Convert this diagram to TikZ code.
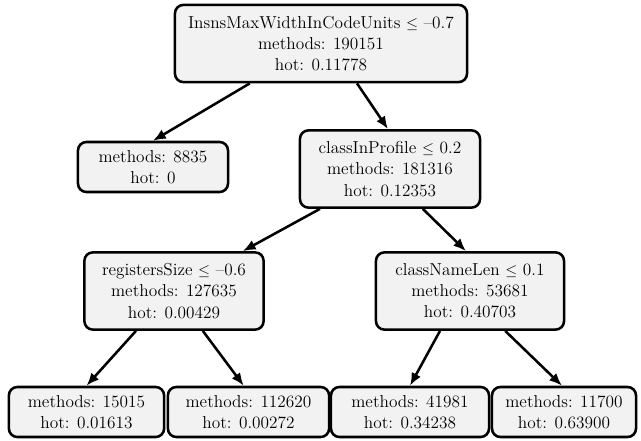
\documentclass[tikz,border=0pt]{standalone}
\usepackage{tikz}
\usetikzlibrary{arrows.meta, positioning}
\definecolor{nodegray}{RGB}{242,242,242}

\newcommand{\smallleq}{{\fontsize{10.5}{12}\selectfont$\leq$}}

\tikzset{
  treenode/.style={draw=black, fill=nodegray, line width=1.8pt, rounded corners=6pt,
    align=center, inner xsep=4pt, font=\fontsize{12.3}{15}\selectfont},
  splitnode/.style={treenode, minimum height=1.93cm},
  leafnode/.style={treenode, minimum height=1.25cm},
  edge/.style={-{Latex[length=3.2mm,width=2.6mm]}, line width=1.8pt}
}

\begin{document}
\begin{tikzpicture}[x=0.025cm, y=-0.025cm]
  \useasboundingbox (0,0) rectangle (641,441);

  % Root split
  \node[splitnode, minimum width=7.3cm] (root) at (321,43.5)
       {InsnsMaxWidthInCodeUnits \smallleq{} --0.7\\methods: 190151\\hot: 0.11778};

  % Level 1
  \node[leafnode, minimum width=3.75cm] (leafcold) at (153,167)
       {methods: 8835\\hot: 0};
  \node[splitnode, minimum width=4.5cm] (profile) at (390,169)
       {classInProfile \smallleq{} 0.2\\methods: 181316\\hot: 0.12353};

  % Level 2
  \node[splitnode, minimum width=4.48cm] (regs) at (174,291)
       {registersSize \smallleq{} --0.6\\methods: 127635\\hot: 0.00429};
  \node[splitnode, minimum width=4.7cm] (namelen) at (470,291)
       {classNameLen \smallleq{} 0.1\\methods: 53681\\hot: 0.40703};

  % Level 3 -- leaves
  \node[leafnode, minimum width=3.88cm] (leafa) at (86.5,412)
       {methods: 15015\\hot: 0.01613};
  \node[leafnode, minimum width=4.03cm] (leafb) at (248.5,412)
       {methods: 112620\\hot: 0.00272};
  \node[leafnode, minimum width=3.95cm] (leafc) at (410,412)
       {methods: 41981\\hot: 0.34238};
  \node[leafnode, minimum width=3.6cm] (leafd) at (564,412)
       {methods: 11700\\hot: 0.63900};

  % Edges
  \draw[edge] ([xshift=-1.78cm]root.south) -- (leafcold.north);
  \draw[edge] ([xshift=0.9cm]root.south) -- ([xshift=-0.05cm]profile.north);
  \draw[edge] ([xshift=-1.75cm]profile.south) -- ([xshift=1.72cm]regs.north);
  \draw[edge] ([xshift=0.82cm]profile.south) -- ([xshift=-0.1cm]namelen.north);
  \draw[edge] ([xshift=-0.95cm]regs.south) -- (leafa.north);
  \draw[edge] ([xshift=0.72cm]regs.south) -- ([xshift=-0.12cm]leafb.north);
  \draw[edge] ([xshift=-0.75cm]namelen.south) -- (leafc.north);
  \draw[edge] ([xshift=0.88cm]namelen.south) -- ([xshift=-0.05cm]leafd.north);
\end{tikzpicture}
\end{document}
